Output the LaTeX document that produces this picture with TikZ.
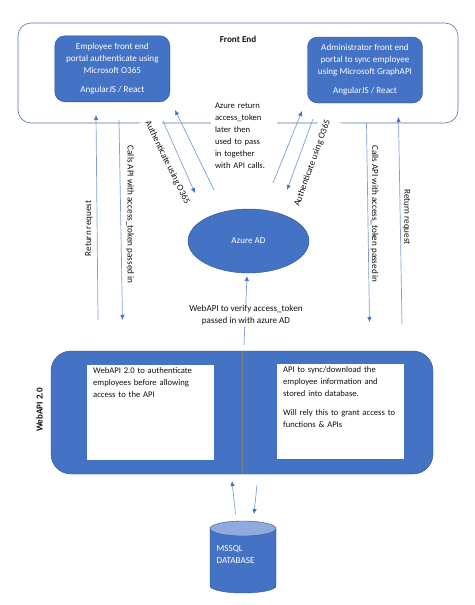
\documentclass[tikz,border=0pt]{standalone}
\usepackage{fontspec}
\setmainfont{Carlito}
\usetikzlibrary{shapes.geometric,arrows.meta}
\tikzset{>=latex}
\definecolor{boxblue}{HTML}{4472C4}
\definecolor{edgeblue}{HTML}{2F528F}
\definecolor{lineblue}{HTML}{7F9FD6}
\definecolor{topblue}{HTML}{8FAADC}
\definecolor{inkgrey}{HTML}{111111}
\tikzset{
  txt/.style={font=\fontsize{9.1}{12}\selectfont,text=inkgrey,inner sep=0pt},
  smalltxt/.style={txt,font=\fontsize{8.6}{12}\selectfont},
  whitetxt/.style={txt,text=white},
  frontbox/.style={draw=edgeblue!80,line width=0.6pt,fill=white,rounded corners=13pt,minimum width=440pt,minimum height=100pt},
  bluebox/.style={whitetxt,fill=boxblue,draw=edgeblue,line width=0.4pt,rounded corners=10pt,minimum width=115pt,minimum height=66pt,align=center},
  apibox/.style={fill=boxblue,draw=edgeblue,line width=0.4pt,rounded corners=20pt,minimum width=382pt,minimum height=123pt},
  whitebox/.style={fill=white,minimum width=127pt,minimum height=95pt,inner sep=0pt},
  flow/.style={-{Latex[color=boxblue,length=5pt,width=4.5pt]},draw=lineblue,line width=0.7pt},
  sidelabel/.style={txt,fill=white}
}
\begin{document}
\begin{tikzpicture}[x=1pt,y=-1pt]
  \useasboundingbox (0,0) rectangle (474,605);
  \fill[white] (0,0) rectangle (474,605);
  \node[frontbox] (front) at (238,73) {};
  \node[txt,font=\fontsize{9.1}{12}\selectfont\bfseries] (frontlabel) at (238,39.5) {Front End};
  \node[bluebox] (employee) at (112.3,68.8) {Employee front end\\portal authenticate using\\Microsoft O365\\[7pt]AngularJS / React};
  \node[bluebox] (admin) at (365,70) {Administrator front end\\portal to sync employee\\using Microsoft GraphAPI\\[7pt]AngularJS / React};
  \node[sidelabel,rotate=-64,inner sep=2pt,text height=13pt,text depth=9pt] (authleft) at (167,163) {Authenticate using O365};
  \node[sidelabel,rotate=70,inner sep=2pt,text height=9pt,text depth=14pt] (authright) at (317,165) {Authenticate using O365};
  \node[sidelabel,smalltxt,minimum width=66pt,minimum height=72pt,align=left,text width=58pt] (azuretoken) at (244,136) {Azure return\\access\_token\\later then\\used to pass\\in together\\with API calls.};
  \node[whitetxt,fill=boxblue,draw=edgeblue,line width=0.4pt,shape=ellipse,minimum width=121pt,minimum height=64pt] (azure) at (248.5,241) {Azure AD};
  \node[apibox] (webapi) at (242,412.5) {};
  \node[txt,rotate=90,font=\fontsize{9.1}{12}\selectfont\bfseries] (webapilabel) at (39.5,410) {WebAPI 2.0};
  \draw[draw=gray,line width=0.7pt] (webapi.north) -- (webapi.south);
  \node[whitebox] (apileft) at (150.2,412.5) {};
  \node[whitebox] (apiright) at (340.5,411.5) {};
  \node[smalltxt,anchor=north west,text width=118pt,align=left] (apilefttxt) at (93,367) {WebAPI 2.0 to authenticate\\employees before allowing\\access to the API};
  \node[smalltxt,anchor=north west,text width=118pt,align=left] (apirighttxt) at (283,366.5) {API to sync/download the\\employee information and\\stored into database.\\[7pt]Will rely this to grant access to\\functions \& APIs};
  \draw[fill=boxblue,draw=edgeblue,line width=0.4pt] (210,528.5) -- (210,586) arc[start angle=180,end angle=360,x radius=33pt,y radius=7pt] -- (276,528.5) -- cycle;
  \node[shape=ellipse,fill=topblue,draw=edgeblue,line width=0.4pt,minimum width=66pt,minimum height=15pt,inner sep=0pt] (database) at (243,528.5) {};
  \node[whitetxt,anchor=north west,align=left] (databasetxt) at (216.5,545) {MSSQL\\DATABASE};

  \coordinate (retleftA) at (98,320);   \coordinate (retleftB) at (96,115);
  \coordinate (callleftA) at (119,120); \coordinate (callleftB) at (122.5,320);
  \coordinate (authleftA) at (163,121); \coordinate (authleftB) at (195,193);
  \coordinate (tokleftA) at (214,190);  \coordinate (tokleftB) at (175,110);
  \coordinate (tokrightA) at (273,183); \coordinate (tokrightB) at (302,111);
  \coordinate (authrightA) at (313,119); \coordinate (authrightB) at (287,190);
  \coordinate (callrightA) at (366.5,123); \coordinate (callrightB) at (369.5,322);
  \coordinate (retrightA) at (402,324); \coordinate (retrightB) at (398.5,117);
  \coordinate (verifyA) at (244,345);   \coordinate (verifyB) at (247,276);
  \coordinate (dbupA) at (235.5,514);   \coordinate (dbupB) at (232,481);
  \coordinate (dbdownA) at (257,485);   \coordinate (dbdownB) at (254,514);

  \draw[flow] (retleftA) -- (retleftB);
  \draw[flow] (callleftA) -- (callleftB);
  \draw[flow] (authleftA) -- (authleftB);
  \draw[flow] (tokleftA) -- (tokleftB);
  \draw[flow] (tokrightA) -- (tokrightB);
  \draw[flow] (authrightA) -- (authrightB);
  \draw[flow] (callrightA) -- (callrightB);
  \draw[flow] (retrightA) -- (retrightB);
  \draw[flow] (verifyA) -- (verifyB);
  \draw[flow] (dbupA) -- (dbupB);
  \draw[flow] (dbdownA) -- (dbdownB);

  \node[txt,fill=white,inner sep=1pt,align=center] (verify) at (246,315) {WebAPI to verify access\_token\\passed in with azure AD};
  \node[txt,rotate=90] (retleftlabel) at (89,228.5) {Return request};
  \node[txt,rotate=-90] (callleftlabel) at (130,214.5) {Calls API with access\_token passed in};
  \node[txt,rotate=-90] (callrightlabel) at (374.5,214) {Calls API with access\_token passed in};
  \node[txt,rotate=-90] (retrightlabel) at (406.5,217) {Return request};
\end{tikzpicture}
\end{document}
